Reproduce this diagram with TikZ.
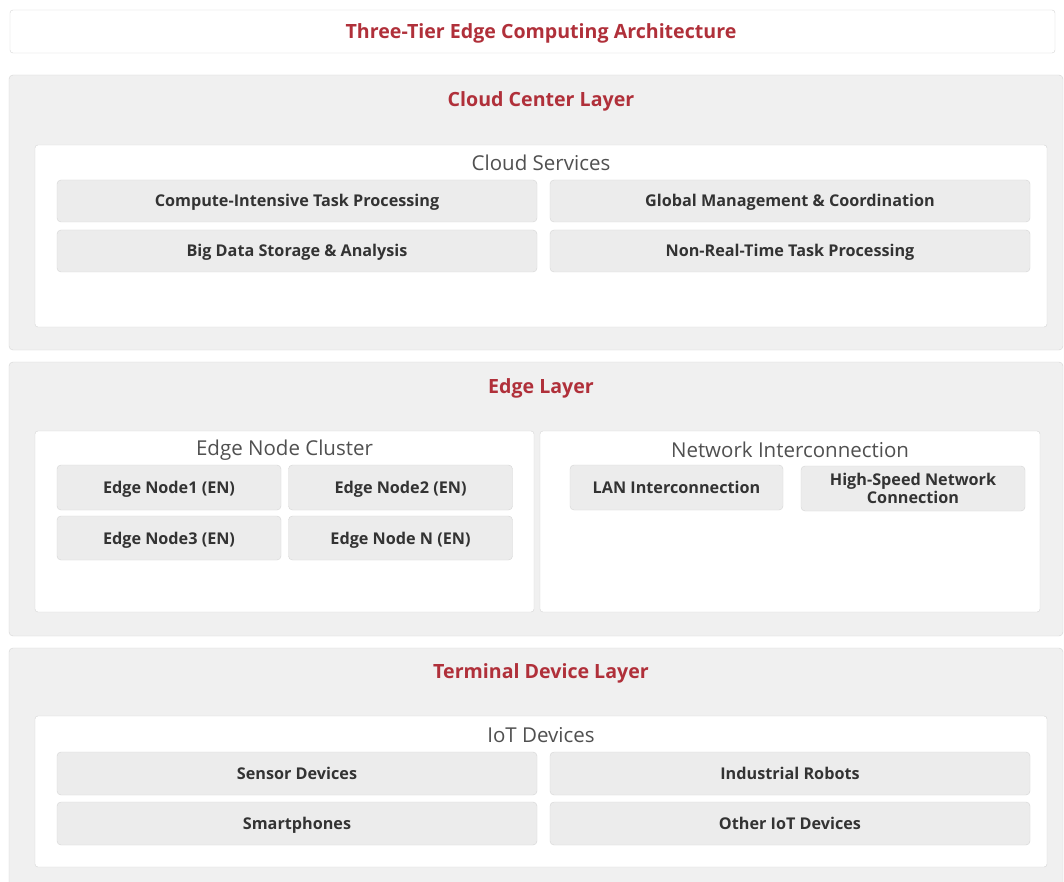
\documentclass[tikz,border=0pt]{standalone}
\usepackage{fontspec}
\setmainfont{Open Sans}
\usepackage{tikz}
\usetikzlibrary{positioning}

\definecolor{layerred}{HTML}{B0303A}
\definecolor{layerfill}{HTML}{F0F0F0}
\definecolor{boxfill}{HTML}{ECECEC}
\definecolor{lineclr}{HTML}{D6D6D6}
\definecolor{grouptxt}{HTML}{505050}
\definecolor{itemtxt}{HTML}{333333}

\begin{document}
\begin{tikzpicture}[x=1pt, y=-1pt,
    layerbox/.style={draw=lineclr, fill=layerfill, rounded corners=4pt, inner sep=0pt},
    groupbox/.style={draw=lineclr, fill=white, rounded corners=3pt, inner sep=0pt},
    itembox/.style={draw=lineclr, fill=boxfill, rounded corners=4pt, inner sep=0pt,
        font=\fontsize{16.2}{18.5}\selectfont\bfseries, text=itemtxt, align=center,
        text height=14pt, text depth=2pt},
    layertitle/.style={font=\fontsize{19.6}{21}\selectfont\bfseries, text=layerred},
    grouptitle/.style={font=\fontsize{20.5}{22}\selectfont, text=grouptxt}]
                        \useasboundingbox[fill=white] (0, 0) rectangle (1064, 882);
                        % title
                        \node[groupbox, minimum width=1045pt, minimum height=43pt] (head) at (532.5, 31.5) {};
                        \node[layertitle] (headtext) at (541, 33) {Three-Tier Edge Computing Architecture};
                        % cloud center layer
                        \node[layerbox, minimum width=1054pt, minimum height=275pt] (cloud) at (536, 212.5) {};
                        \node[layertitle] (cloudtitle) at (541, 101) {Cloud Center Layer};
                        \node[groupbox, minimum width=1012pt, minimum height=182pt] (services) at (541, 236) {};
                        \node[grouptitle] (servicestitle) at (541, 163) {Cloud Services};
                        \node[itembox, minimum width=480pt, minimum height=42pt] (compute) at (297, 201) {Compute-Intensive Task Processing};
                        \node[itembox, minimum width=480pt, minimum height=42pt] (global) at (790, 201) {Global Management \& Coordination};
                        \node[itembox, minimum width=480pt, minimum height=42pt] (bigdata) at (297, 251) {Big Data Storage \& Analysis};
                        \node[itembox, minimum width=480pt, minimum height=42pt] (nonrt) at (790, 251) {Non-Real-Time Task Processing};
                        % edge layer
                        \node[layerbox, minimum width=1054pt, minimum height=274pt] (edge) at (536, 499) {};
                        \node[layertitle] (edgetitle) at (541, 388) {Edge Layer};
                        \node[groupbox, minimum width=499pt, minimum height=181pt] (cluster) at (284.5, 521.5) {};
                        \node[grouptitle] (clustertitle) at (284.5, 450) {Edge Node Cluster};
                        \node[itembox, minimum width=224pt, minimum height=45pt] (en1) at (169, 487.5) {Edge Node1 (EN)};
                        \node[itembox, minimum width=224pt, minimum height=45pt] (en2) at (400.5, 487.5) {Edge Node2 (EN)};
                        \node[itembox, minimum width=224pt, minimum height=44pt] (en3) at (169, 538) {Edge Node3 (EN)};
                        \node[itembox, minimum width=224pt, minimum height=44pt] (enn) at (400.5, 538) {Edge Node N (EN)};
                        \node[groupbox, minimum width=500pt, minimum height=181pt] (network) at (790, 521.5) {};
                        \node[grouptitle] (networktitle) at (790, 450) {Network Interconnection};
                        \node[itembox, minimum width=213pt, minimum height=45pt] (lan) at (676.5, 487.5) {LAN Interconnection};
                        \node[itembox, text height=, text depth=, minimum width=224pt, minimum height=45pt] (highspeed) at (913, 488.5) {High-Speed Network\\Connection};
                        % terminal device layer
                        \node[layerbox, minimum width=1054pt, minimum height=250pt] (terminal) at (536, 773) {};
                        \node[layertitle] (terminaltitle) at (541, 673) {Terminal Device Layer};
                        \node[groupbox, minimum width=1012pt, minimum height=151pt] (iot) at (541, 791.5) {};
                        \node[grouptitle] (iottitle) at (541, 735) {IoT Devices};
                        \node[itembox, minimum width=480pt, minimum height=43pt] (sensor) at (297, 773.5) {Sensor Devices};
                        \node[itembox, minimum width=480pt, minimum height=43pt] (robots) at (790, 773.5) {Industrial Robots};
                        \node[itembox, minimum width=480pt, minimum height=43pt] (phones) at (297, 823.5) {Smartphones};
                        \node[itembox, minimum width=480pt, minimum height=43pt] (otheriot) at (790, 823.5) {Other IoT Devices};
                    \end{tikzpicture}
\end{document}
